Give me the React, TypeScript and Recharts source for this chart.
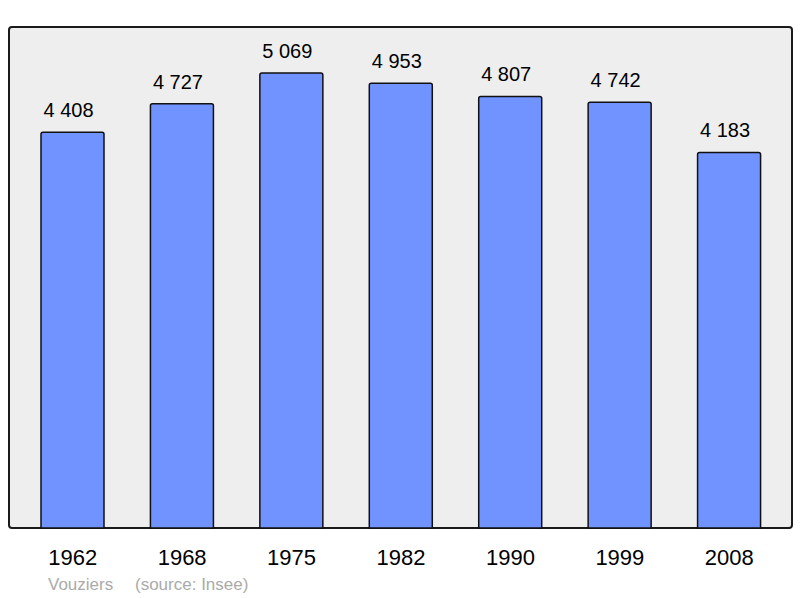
import { BarChart, Bar, XAxis, YAxis, LabelList } from "recharts";

const YEARS = ["1962", "1968", "1975", "1982", "1990", "1999", "2008"];
const POPULATION = [4408, 4727, 5069, 4953, 4807, 4742, 4183];
const TOWN = "Vouziers";
const SOURCE = "(source: Insee)";

const data = YEARS.map((year, i) => ({ year, population: POPULATION[i] }));

const FONT = "'Liberation Sans', Arial, sans-serif";

const formatPop = (v: number | string) =>
  String(v).replace(/\B(?=(\d{3})+(?!\d))/g, " ");

export default function App() {
  return (
    <div
      style={{
        position: "absolute",
        left: 0,
        top: 0,
        width: 800,
        height: 598,
        background: "#ffffff",
        fontFamily: FONT,
      }}
    >
      {/* framed plot background */}
      <div
        style={{
          position: "absolute",
          left: 8,
          top: 26,
          width: 781,
          height: 499,
          border: "2px solid #1a1a1a",
          borderRadius: 4,
          background: "#eeeeee",
        }}
      />
      <div style={{ position: "absolute", left: 0, top: 0 }}>
        <BarChart
          width={800}
          height={598}
          data={data}
          margin={{ top: 27, right: 16, left: 18, bottom: 0 }}
          barSize={63}
        >
          <XAxis
            dataKey="year"
            height={70}
            axisLine={false}
            tickLine={false}
            tickMargin={15}
            tick={{ fill: "#000000", fontSize: 22, fontFamily: FONT }}
          />
          <YAxis hide domain={[0, 5581]} />
          <Bar
            dataKey="population"
            fill="#7093ff"
            stroke="#111111"
            strokeWidth={1.5}
            radius={[2, 2, 0, 0]}
            isAnimationActive={false}
          >
            <LabelList
              dataKey="population"
              position="top"
              offset={15}
              dx={-4}
              formatter={formatPop}
              style={{ fill: "#000000", fontSize: 20, fontFamily: FONT }}
            />
          </Bar>
        </BarChart>
      </div>
      <span
        style={{
          position: "absolute",
          left: 48,
          top: 575,
          fontSize: 17,
          lineHeight: "19px",
          color: "#aaaaaa",
          whiteSpace: "nowrap",
        }}
      >
        {TOWN}
      </span>
      <span
        style={{
          position: "absolute",
          left: 135,
          top: 575,
          fontSize: 17,
          lineHeight: "19px",
          color: "#aaaaaa",
          whiteSpace: "nowrap",
        }}
      >
        {SOURCE}
      </span>
    </div>
  );
}
